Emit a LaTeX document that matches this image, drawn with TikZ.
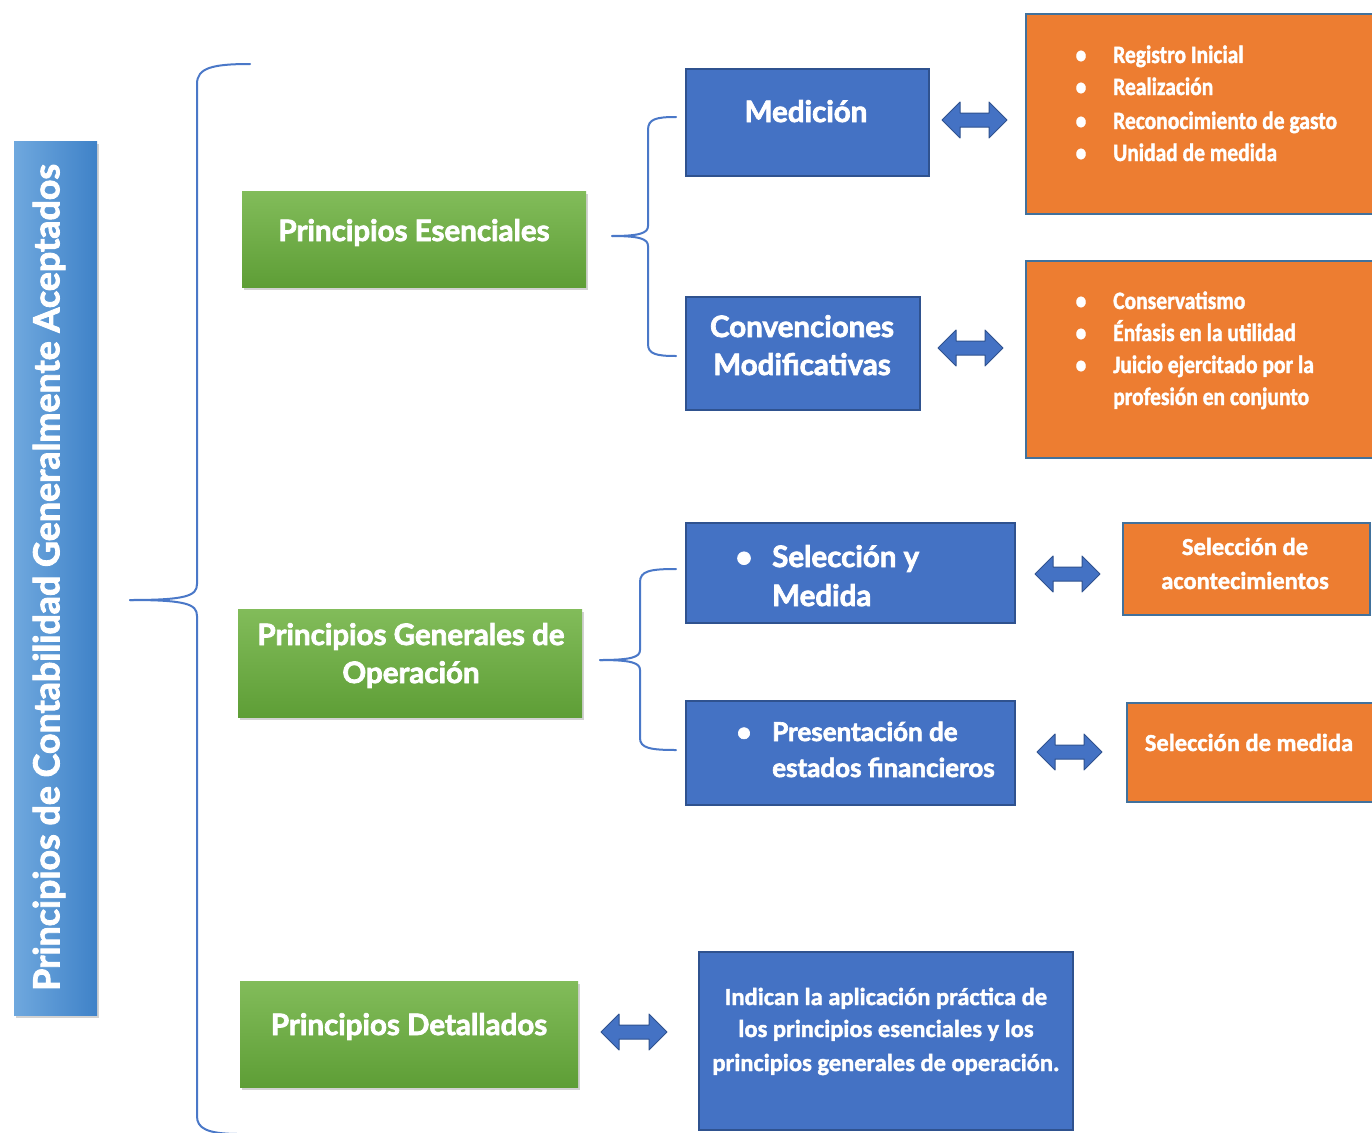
\documentclass[tikz,border=0pt]{standalone}
\usepackage{fontspec}
\setmainfont{Carlito}
\newfontfamily\twfont[BoldFeatures={FakeBold=2.5}]{Lato}
\newfontfamily\cbfont[FakeStretch=0.86,BoldFeatures={FakeBold=1.5}]{Carlito}
\newfontfamily\cwfont[BoldFeatures={FakeBold=1.5}]{Carlito}
\usetikzlibrary{shadows}
\definecolor{bblue}{HTML}{4472C4}
\definecolor{bborder}{HTML}{2F528F}
\definecolor{orng}{HTML}{ED7D31}
\definecolor{oborder}{HTML}{41719C}
\definecolor{gtop}{HTML}{82BC5A}
\definecolor{gbot}{HTML}{5E9E36}
\definecolor{ltl}{HTML}{6FA8DE}
\definecolor{ltr}{HTML}{3F82C8}
\definecolor{bline}{HTML}{4A78C8}
\newcommand{\dblarrow}[3]{% x0, x1, y
  \draw[dbl] (#1,#3) -- ++(18,-18) -- ++(0,11) -- (#2-18,#3-7) -- ++(0,-11) -- (#2,#3)
    -- ++(-18,18) -- ++(0,-11) -- (#1+18,#3+7) -- ++(0,11) -- cycle;}
\begin{document}
\begin{tikzpicture}[x=1pt,y=-1pt,
  gbox/.style={rectangle, top color=gtop, bottom color=gbot, inner sep=0,
    drop shadow={opacity=0.35, shadow xshift=2pt, shadow yshift=-3pt}},
  bbox/.style={rectangle, fill=bblue, draw=bborder, line width=1.5pt, inner sep=0},
  obox/.style={rectangle, fill=orng, draw=oborder, line width=1.5pt, inner sep=0},
  ttext/.style={text=white, font=\twfont\bfseries\fontsize{29.5}{38}\selectfont, inner sep=0},
  stext/.style={text=white, font=\twfont\bfseries\fontsize{26}{34}\selectfont, inner sep=0},
  otext/.style={text=white, font=\cbfont\bfseries\fontsize{25}{32}\selectfont, inner sep=0},
  wtext/.style={text=white, font=\cwfont\bfseries\fontsize{24.5}{32}\selectfont, inner sep=0},
  brace/.style={draw=bline, line width=2pt, line cap=round},
  dbl/.style={fill=bblue, draw=bborder, line width=1pt, line join=round}]
\useasboundingbox (0,0) rectangle (1372,1132);
\fill[white] (0,0) rectangle (1372,1132);

% left title bar
\node[rectangle, left color=ltl, right color=ltr, minimum width=83, minimum height=874, inner sep=0,
  drop shadow={opacity=0.35, shadow xshift=2pt, shadow yshift=-3pt}] (bar) at (55.5,578) {};
\node[rotate=90, text=white, font=\twfont\bfseries\fontsize{35.8}{42}\selectfont, inner sep=0] (bart) at (49,577.5) {Principios de Contabilidad Generalmente Aceptados};

% big brace
\coordinate (bt) at (250,64);
\coordinate (bm) at (130,600);
\coordinate (bb) at (240,1134);
\draw[brace] (bt) .. controls (212,64) and (197,68) .. (197,84) -- (197,584) .. controls (197,596) and (186,600) .. (bm);
\draw[brace] (bm) .. controls (186,600) and (197,604) .. (197,616) -- (197,1116) .. controls (197,1128) and (206,1134) .. (bb);

% green boxes
\node[gbox, minimum width=344, minimum height=96] (pe) at (414,239) {};
\node[ttext, anchor=base] (pet) at (414,241) {Principios Esenciales};
\node[gbox, minimum width=344, minimum height=108] (pgo) at (410,663) {};
\node[ttext, anchor=base] (pgot1) at (411,645) {Principios Generales de};
\node[ttext, anchor=base] (pgot2) at (411,683) {Operación};
\node[gbox, minimum width=338, minimum height=106] (pd) at (409,1034) {};
\node[ttext, anchor=base] (pdt) at (409,1035) {Principios Detallados};

% small braces
\coordinate (s1t) at (676,117);
\coordinate (s1m) at (612,236);
\coordinate (s1b) at (676,356);
\draw[brace] (s1t) .. controls (656,117) and (648,119) .. (648,130) -- (648,226) .. controls (648,233) and (640,236) .. (s1m);
\draw[brace] (s1m) .. controls (640,236) and (648,239) .. (648,246) -- (648,344) .. controls (648,354) and (656,356) .. (s1b);
\coordinate (s2t) at (676,569);
\coordinate (s2m) at (600,660);
\coordinate (s2b) at (676,750);
\draw[brace] (s2t) .. controls (650,569) and (640,571) .. (640,582) -- (640,650) .. controls (640,657) and (632,660) .. (s2m);
\draw[brace] (s2m) .. controls (632,660) and (640,663) .. (640,670) -- (640,738) .. controls (640,748) and (650,750) .. (s2b);

% blue boxes
\node[bbox, minimum width=243, minimum height=107] (med) at (807.5,122.5) {};
\node[ttext, anchor=base] (medt) at (806,122) {Medición};
\node[bbox, minimum width=234, minimum height=113] (conv) at (803,353.5) {};
\node[ttext, anchor=base] (convt1) at (802,337) {Convenciones};
\node[ttext, anchor=base] (convt2) at (802,375) {Modificativas};
\node[bbox, minimum width=329, minimum height=100] (sym) at (850.5,573) {};
\node[ttext, anchor=base] (symb) at (744,567) {•};
\node[ttext, anchor=base west] (symt1) at (772,567) {Selección y};
\node[ttext, anchor=base west] (symt2) at (772,606) {Medida};
\node[bbox, minimum width=329, minimum height=104] (pef) at (850.5,753) {};
\node[stext, anchor=base] (pefb) at (744,741) {•};
\node[stext, anchor=base west] (peft1) at (772,741) {Presentación de};
\node[stext, anchor=base west] (peft2) at (772,777) {estados financieros};
\node[bbox, minimum width=374, minimum height=178] (ind) at (886,1041) {};
\node[wtext, anchor=base] (indt1) at (886,1005) {Indican la aplicación práctica de};
\node[wtext, anchor=base] (indt2) at (886,1037) {los principios esenciales y los};
\node[wtext, anchor=base] (indt3) at (886,1071) {principios generales de operación.};

% orange boxes
\node[obox, minimum width=350, minimum height=200] (o1) at (1201,114) {};
\node[otext, anchor=base] (o1b1) at (1081,63) {•};
\node[otext, anchor=base west] (o1t1) at (1113,63) {Registro Inicial};
\node[otext, anchor=base] (o1b2) at (1081,95) {•};
\node[otext, anchor=base west] (o1t2) at (1113,95) {Realización};
\node[otext, anchor=base] (o1b3) at (1081,129) {•};
\node[otext, anchor=base west] (o1t3) at (1113,129) {Reconocimiento de gasto};
\node[otext, anchor=base] (o1b4) at (1081,161) {•};
\node[otext, anchor=base west] (o1t4) at (1113,161) {Unidad de medida};

\node[obox, minimum width=350, minimum height=197] (o2) at (1201,359.5) {};
\node[otext, anchor=base] (o2b1) at (1081,309) {•};
\node[otext, anchor=base west] (o2t1) at (1113,309) {Conservatismo};
\node[otext, anchor=base] (o2b2) at (1081,341) {•};
\node[otext, anchor=base west] (o2t2) at (1113,341) {Énfasis en la utilidad};
\node[otext, anchor=base] (o2b3) at (1081,373) {•};
\node[otext, anchor=base west] (o2t3) at (1113,373) {Juicio ejercitado por la};
\node[otext, anchor=base west] (o2t4) at (1113,405) {profesión en conjunto};

\node[obox, minimum width=247, minimum height=92] (o3) at (1246.5,569) {};
\node[wtext, anchor=base] (o3t1) at (1245,555) {Selección de};
\node[wtext, anchor=base] (o3t2) at (1245,589) {acontecimientos};
\node[obox, minimum width=249, minimum height=99] (o4) at (1251.5,752.5) {};
\node[wtext, anchor=base] (o4t) at (1249,751) {Selección de medida};

% double arrows
\dblarrow{942}{1007}{120}
\dblarrow{938}{1003}{348}
\dblarrow{1035}{1100}{574}
\dblarrow{1037}{1102}{752}
\dblarrow{601}{667}{1032}
\end{tikzpicture}
\end{document}
